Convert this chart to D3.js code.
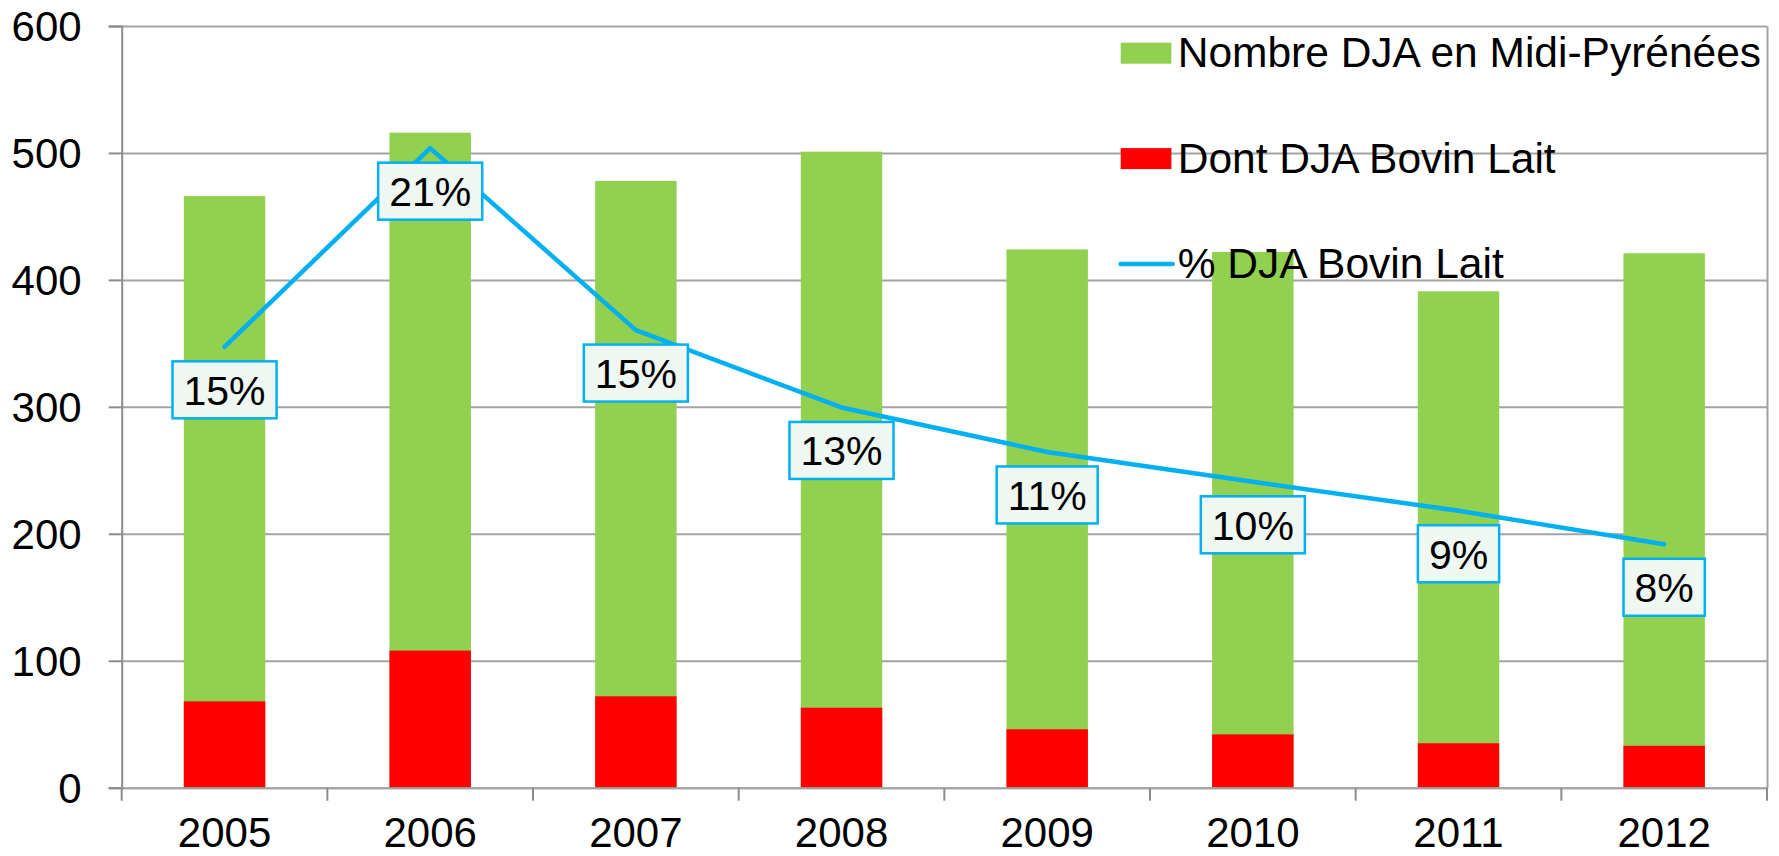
<!DOCTYPE html>
<html>
<head>
<meta charset="utf-8">
<script src="https://cdn.jsdelivr.net/npm/d3@7"></script>
<style>
  html, body { margin: 0; padding: 0; background: #fff; }
  svg { display: block; font-family: "Liberation Sans", Arial, sans-serif; }
</style>
</head>
<body>
<svg id="chart" width="1779" height="856"></svg>
<script>
// ---- data ----
const years = ["2005", "2006", "2007", "2008", "2009", "2010", "2011", "2012"];
const totalDJA = [466, 516, 478, 501, 424, 422, 391, 421];   // Nombre DJA en Midi-Pyrénées
const laitDJA = [68, 108, 72, 63, 46, 42, 35, 33];           // Dont DJA Bovin Lait
const pctLait = [0.1447, 0.2099, 0.1502, 0.1248, 0.1102, 0.1004, 0.0909, 0.0799];
const pctLabels = ["15%", "21%", "15%", "13%", "11%", "10%", "9%", "8%"];
const yTicks = [0, 100, 200, 300, 400, 500, 600];
const legendItems = [
  { label: "Nombre DJA en Midi-Pyrénées", type: "rect", color: "#92d050" },
  { label: "Dont DJA Bovin Lait", type: "rect", color: "#ff0000" },
  { label: "% DJA Bovin Lait", type: "line", color: "#00b0f0" }
];

const plot = { left: 121.7, right: 1767, top: 26, bottom: 787.7 };
const svg = d3.select("#chart");

const x = d3.scaleBand()
  .domain(years)
  .range([plot.left, plot.right])
  .paddingInner(0.604)
  .paddingOuter(0.302);

const y = d3.scaleLinear().domain([0, 600]).range([plot.bottom, plot.top]);
// secondary (hidden) axis for the percentage line
const yPct = d3.scaleLinear().domain([0, 0.25]).range([plot.bottom, plot.top]);

// gridlines
svg.append("g")
  .attr("transform", `translate(${plot.left},0)`)
  .call(d3.axisLeft(y).tickValues(yTicks).tickSize(-(plot.right - plot.left)).tickFormat(""))
  .call(g => g.select(".domain").remove())
  .call(g => g.selectAll("line").attr("stroke", "#a3a3a3").attr("stroke-width", 2));

// bars: total then the dairy share on top, both from 0
const rows = years.map((yr, i) => ({ yr, total: totalDJA[i], lait: laitDJA[i], pct: pctLait[i], label: pctLabels[i] }));

svg.append("g").selectAll("rect")
  .data(rows)
  .join("rect")
  .attr("x", d => x(d.yr))
  .attr("y", d => y(d.total))
  .attr("width", x.bandwidth())
  .attr("height", d => y(0) - y(d.total))
  .attr("fill", "#92d050");

svg.append("g").selectAll("rect")
  .data(rows)
  .join("rect")
  .attr("x", d => x(d.yr))
  .attr("y", d => y(d.lait))
  .attr("width", x.bandwidth())
  .attr("height", d => y(0) - y(d.lait))
  .attr("fill", "#ff0000");

// y axis
svg.append("g")
  .attr("transform", `translate(${plot.left},0)`)
  .call(d3.axisLeft(y).tickValues(yTicks).tickSize(13).tickPadding(27))
  .call(g => g.selectAll("line, path").attr("stroke", "#8c8c8c").attr("stroke-width", 2))
  .call(g => g.selectAll("text").attr("font-size", 42).attr("fill", "#000").attr("dy", "0.35em"));

// right (secondary) axis line, no labels
svg.append("g")
  .attr("transform", `translate(${plot.right},0)`)
  .call(d3.axisRight(yPct).tickValues([]).tickSizeOuter(0))
  .call(g => g.select(".domain").attr("stroke", "#a3a3a3").attr("stroke-width", 2));

// x axis with labels centred and ticks on category boundaries
svg.append("g")
  .attr("transform", `translate(0,${plot.bottom})`)
  .call(d3.axisBottom(x).tickSize(0).tickPadding(29).tickSizeOuter(0))
  .call(g => g.select(".domain").attr("stroke", "#a3a3a3").attr("stroke-width", 2))
  .call(g => g.selectAll("text").attr("font-size", 42).attr("fill", "#000"));

const bounds = d3.range(years.length + 1).map(i => plot.left + i * x.step());
svg.append("g").selectAll("line")
  .data(bounds)
  .join("line")
  .attr("x1", d => d).attr("x2", d => d)
  .attr("y1", plot.bottom).attr("y2", plot.bottom + 13)
  .attr("stroke", "#8c8c8c")
  .attr("stroke-width", 2);

// percentage line
const cx = d => x(d.yr) + x.bandwidth() / 2;
svg.append("path")
  .datum(rows)
  .attr("fill", "none")
  .attr("stroke", "#00b0f0")
  .attr("stroke-width", 4.5)
  .attr("stroke-linecap", "round")
  .attr("stroke-linejoin", "round")
  .attr("d", d3.line().x(cx).y(d => yPct(d.pct)));

// data labels
const lab = svg.append("g").selectAll("g")
  .data(rows)
  .join("g")
  .attr("transform", d => `translate(${cx(d)},${yPct(d.pct) + 43})`);

lab.append("rect")
  .attr("fill", "#eef7f1")
  .attr("stroke", "#00b0f0")
  .attr("stroke-width", 2.5);

const labText = lab.append("text")
  .attr("text-anchor", "middle")
  .attr("dy", "0.36em")
  .attr("font-size", 41)
  .attr("fill", "#000")
  .text(d => d.label);

labText.each(function(d) {
  const w = this.getComputedTextLength() + 22;
  d3.select(this.parentNode).select("rect")
    .attr("x", -w / 2).attr("y", -28.5)
    .attr("width", w).attr("height", 57);
});

// legend
const legend = svg.append("g").selectAll("g")
  .data(legendItems)
  .join("g")
  .attr("transform", (d, i) => `translate(1120.7,${53.2 + i * 105.4})`);

legend.filter(d => d.type === "rect").append("rect")
  .attr("x", 0).attr("y", -10.5)
  .attr("width", 50.7).attr("height", 21)
  .attr("fill", d => d.color);

legend.filter(d => d.type === "line").append("line")
  .attr("x1", 0).attr("x2", 52)
  .attr("stroke", d => d.color)
  .attr("stroke-width", 4.5)
  .attr("stroke-linecap", "round");

legend.append("text")
  .attr("x", 57)
  .attr("dy", "0.33em")
  .attr("font-size", 42.5)
  .attr("fill", "#000")
  .text(d => d.label);
</script>
</body>
</html>
